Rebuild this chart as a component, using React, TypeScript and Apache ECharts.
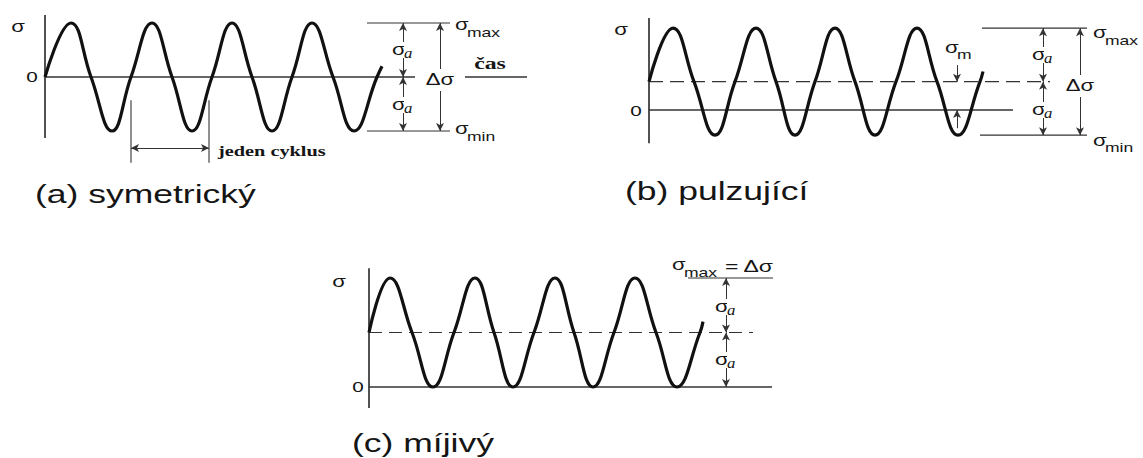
import React, { useEffect, useRef } from "react";
import * as echarts from "echarts";

// Panel titles
const panelTitles = ["(a) symetrický", "(b) pulzující", "(c) míjivý"];

// Wave key points: [time t, stress σ in units of σa]
// (start, peaks, troughs, crossings of the mean line, end)
const waveA: number[][] = [
  [0, 0], [26, 1], [46, 0], [67, -1], [86, 0], [107, 1], [127, 0], [147, -1],
  [167, 0], [187, 1], [207, 0], [227, -1], [247, 0], [267, 1], [288, 0], [309, -1],
  [332, 0], [337, 0.2],
];
const waveB: number[][] = [
  [0, 0.53], [24, 1.53], [45, 0.53], [66, -0.47], [86, 0.53], [107, 1.53], [127, 0.53], [146, -0.47],
  [166, 0.53], [186, 1.53], [206, 0.53], [226, -0.47], [247, 0.53], [268, 1.53], [288, 0.53], [309, -0.47],
  [331, 0.53], [334, 0.72],
];
const waveC: number[][] = [
  [0, 1], [21, 2], [43, 1], [64, 0], [85, 1], [106, 2], [125, 1], [144, 0],
  [165, 1], [186, 2], [205, 1], [224, 0], [245, 1], [266, 2], [287, 1], [308, 0],
  [331, 1], [334, 1.2],
];

// Stress levels [σmax, σm, σmin] in units of σa
const levelsA = [1, 0, -1];
const levelsB = [1.53, 0.53, -0.47];
const levelsC = [2, 1, 0];

// one cycle (a): start and end time
const cycleA = [86, 164];

const W = 1143;
const H = 458;
const layout = [
  { left: 45, zeroY: 77, ppu: 54 },
  { left: 649, zeroY: 110, ppu: 53.5 },
  { left: 369, zeroY: 387, ppu: 54.5 },
];

const INK = "#151515";
const LINE = "#333";
const SX = 1.38;
const SMOOTH = 0.45;

const line = (i: number, data: number[][], width = 1.3, color = LINE, type: any = "solid", extra: any = {}) => ({
  type: "line",
  xAxisIndex: i,
  yAxisIndex: i,
  data,
  symbol: "none",
  silent: true,
  clip: false,
  lineStyle: { width, color, type },
  ...extra,
});

const arrow = (x1: number, y1: number, x2: number, y2: number, s1 = "arrow", s2 = "arrow") => [
  { coord: [x1, y1], symbol: s1 },
  { coord: [x2, y2], symbol: s2 },
];

const markArrows = (data: any[]) => ({
  silent: true,
  symbol: ["arrow", "arrow"],
  symbolSize: [6, 8],
  label: { show: false },
  emphasis: { disabled: true },
  lineStyle: { color: LINE, width: 1, type: "solid" },
  data,
});

const txt = (x: number, y: number, text: string, o: any = {}) => ({
  type: "text",
  x,
  y,
  scaleX: o.sx ?? SX,
  z: 100,
  style: {
    text,
    fill: o.fill ?? INK,
    fontSize: o.size ?? 15,
    fontFamily: o.family ?? "Liberation Sans",
    fontWeight: o.weight ?? "normal",
    fontStyle: o.fstyle ?? "normal",
    align: o.align ?? "center",
    verticalAlign: "middle",
    backgroundColor: o.bg,
    padding: o.pad,
  },
});

const sigma = (x: number, y: number, sub: string, o: any = {}) => [
  txt(x, y, "σ", { align: "left", size: 16, bg: o.bg }),
  txt(x + 12, y + (o.dy ?? 7), sub, {
    align: "left",
    size: o.subSize ?? 13,
    bg: o.bg,
    family: o.italic ? "Liberation Serif" : "Liberation Sans",
    fstyle: o.italic ? "italic" : "normal",
    sx: o.italic ? 1.2 : 1.35,
  }),
];

export default function App() {
  const ref = useRef<HTMLDivElement>(null);
  useEffect(() => {
    if (!ref.current) return;
    const chart = echarts.init(ref.current, undefined, { renderer: "svg" });
    const grid = layout.map((l) => ({ left: l.left, top: 0, width: W - l.left, height: H }));
    const xAxis = layout.map((l, i) => ({ type: "value", gridIndex: i, min: 0, max: W - l.left, show: false }));
    const yAxis = layout.map((l, i) => ({
      type: "value",
      gridIndex: i,
      min: -(H - l.zeroY) / l.ppu,
      max: l.zeroY / l.ppu,
      show: false,
    }));

    const [aMax, aM, aMin] = levelsA;
    const [bMax, bM, bMin] = levelsB;
    const [cMax, cM, cMin] = levelsC;

    const series: any[] = [
      // ---- (a)
      line(0, [[0, 1.15], [0, -1.13]], 1.7),
      line(0, [[0, aM], [370, aM]], 1.3, LINE, "solid", {
        markLine: markArrows([
          arrow(358, aMax, 358, aM),
          arrow(358, aM, 358, aMin),
          arrow(395, aMax, 395, aMin),
          arrow(cycleA[0], -1.315, cycleA[1], -1.315),
        ]),
      }),
      line(0, [[420, aM], [482, aM]], 1.3),
      line(0, [[322, aMax], [405, aMax]], 1.1),
      line(0, [[322, aMin], [405, aMin]], 1.1),
      line(0, [[cycleA[0], -0.43], [cycleA[0], -1.59]], 1.1),
      line(0, [[cycleA[1], -0.43], [cycleA[1], -1.59]], 1.1),
      line(0, waveA, 3.2, "#111", "solid", { smooth: SMOOTH }),
      // ---- (b)
      line(1, [[0, 1.72], [0, -0.62]], 1.7),
      line(1, [[0, 0], [364, 0]], 1.3, LINE, "solid", {
        markLine: markArrows([
          arrow(394, bMax, 394, bM),
          arrow(394, bM, 394, bMin),
          arrow(431, bMax, 431, bMin),
          arrow(308, 0.84, 308, bM, "none", "arrow"),
          arrow(308, -0.34, 308, 0, "none", "arrow"),
        ]),
      }),
      line(1, [[0, bM], [401, bM]], 1.2, LINE, [14, 7]),
      line(1, [[333, bMax], [438, bMax]], 1.1),
      line(1, [[331, bMin], [438, bMin]], 1.1),
      line(1, waveB, 3.2, "#111", "solid", { smooth: SMOOTH }),
      // ---- (c)
      line(2, [[0, 2.18], [0, -0.385]], 1.7),
      line(2, [[0, cMin], [403, cMin]], 1.3, LINE, "solid", {
        markLine: markArrows([arrow(357, cMax, 357, cM), arrow(357, cM, 357, cMin)]),
      }),
      line(2, [[0, cM], [384, cM]], 1.2, LINE, [13, 7]),
      line(2, [[319, cMax], [404, cMax]], 1.1),
      line(2, waveC, 3.2, "#111", "solid", { smooth: SMOOTH }),
    ];

    const graphic: any[] = [
      // (a)
      txt(18, 27, "σ", { size: 16 }),
      txt(32, 77, "0", { size: 15 }),
      ...sigma(455, 25, "max"),
      ...sigma(455, 129, "min"),
      ...sigma(392, 50, "a", { bg: "#fff", italic: true, subSize: 14, dy: 3 }),
      ...sigma(392, 105, "a", { bg: "#fff", italic: true, subSize: 14, dy: 3 }),
      txt(440, 80, "Δσ", { size: 16, bg: "#fff", pad: [3, 1] }),
      txt(490, 63, "čas", { size: 17, family: "Liberation Serif", weight: "bold", sx: 1.4 }),
      txt(218, 151, "jeden cyklus", { size: 14, family: "Liberation Serif", weight: "bold", sx: 1.45, align: "left" }),
      txt(35, 194, panelTitles[0], { size: 25, sx: 1.42, align: "left" }),
      // (b)
      txt(621, 30, "σ", { size: 16 }),
      txt(636, 111, "0", { size: 15 }),
      ...sigma(945, 48, "m", { dy: 6 }),
      ...sigma(1032, 55, "a", { bg: "#fff", italic: true, subSize: 14, dy: 3 }),
      ...sigma(1032, 110, "a", { bg: "#fff", italic: true, subSize: 14, dy: 3 }),
      txt(1080, 86, "Δσ", { size: 16, bg: "#fff", pad: [3, 1] }),
      ...sigma(1093, 33, "max"),
      ...sigma(1093, 141, "min", { dy: 6 }),
      txt(625, 191, panelTitles[1], { size: 25, sx: 1.42, align: "left" }),
      // (c)
      txt(339, 282, "σ", { size: 16 }),
      txt(358, 387, "0", { size: 15 }),
      ...sigma(672, 265, "max"),
      txt(725, 266, "= Δσ", { size: 17, align: "left", sx: 1.35 }),
      ...sigma(715, 307, "a", { bg: "#fff", italic: true, subSize: 14, dy: 3 }),
      ...sigma(715, 360, "a", { bg: "#fff", italic: true, subSize: 14, dy: 3 }),
      txt(352, 443, panelTitles[2], { size: 25, sx: 1.42, align: "left" }),
    ];

    chart.setOption({
      animation: false,
      backgroundColor: "#fff",
      grid,
      xAxis,
      yAxis,
      series,
      graphic: { elements: graphic },
    });
    return () => chart.dispose();
  }, []);
  return (
    <div
      ref={ref}
      style={{ position: "fixed", left: 0, top: 0, width: W, height: H, background: "#fff" }}
    />
  );
}
